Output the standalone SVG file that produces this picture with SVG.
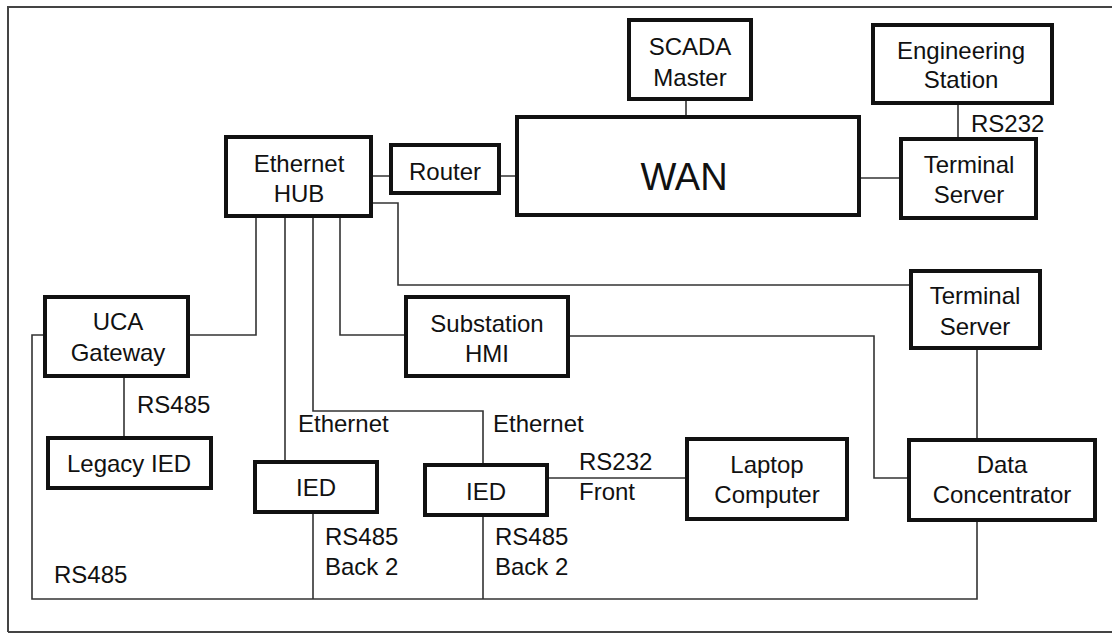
<svg xmlns="http://www.w3.org/2000/svg" width="1112" height="634" viewBox="0 0 1112 634">
<style>
.box{fill:#fff;stroke:#111;stroke-width:4}
.ln{fill:none;stroke:#333;stroke-width:1.6}
.frame{fill:none;stroke:#444;stroke-width:2}
text{font-family:"Liberation Sans",Arial,sans-serif;font-size:24px;fill:#111}
.c{text-anchor:middle}
.big{font-size:38px}
</style>
<rect width="1112" height="634" fill="#fff"/>
<path class="frame" d="M8,632 V7 H1112 M8,632 H1112"/>
<g id="connectors">
<path class="ln" d="M371,176 H391 M499,176 H517"/>
<path class="ln" d="M686,99 V117"/>
<path class="ln" d="M958,103 V139"/>
<path class="ln" d="M859,178 H901"/>
<path class="ln" d="M371,203 H398 V285 H911"/>
<path class="ln" d="M256,216 V335 H188"/>
<path class="ln" d="M285,216 V462"/>
<path class="ln" d="M313,216 V411 H483 V465"/>
<path class="ln" d="M340,216 V335 H406"/>
<path class="ln" d="M124,376 V438"/>
<path class="ln" d="M568,336 H874 V478 H909"/>
<path class="ln" d="M977,348 V440"/>
<path class="ln" d="M547,478 H687"/>
<path class="ln" d="M45,335 H32 V599 H977 V520"/>
<path class="ln" d="M313,512 V599 M483,515 V599"/>
<text x="971" y="132">RS232</text>
<text x="137" y="413">RS485</text>
<text x="298" y="432">Ethernet</text>
<text x="493" y="432">Ethernet</text>
<text x="579" y="470">RS232</text>
<text x="579" y="500">Front</text>
<text x="325" y="545">RS485</text>
<text x="325" y="575">Back 2</text>
<text x="495" y="545">RS485</text>
<text x="495" y="575">Back 2</text>
<text x="54" y="583">RS485</text>
</g>
<g id="hub"><rect class="box" x="226" y="137" width="145" height="79"/><text class="c" x="299" y="172">Ethernet</text><text class="c" x="299" y="202">HUB</text></g>
<g id="router"><rect class="box" x="391" y="145" width="108" height="48"/><text class="c" x="445" y="180">Router</text></g>
<g id="wan"><rect class="box" x="517" y="117" width="342" height="98"/><text class="c big" x="684" y="190">WAN</text></g>
<g id="scada"><rect class="box" x="629" y="20" width="122" height="79"/><text class="c" x="690" y="55">SCADA</text><text class="c" x="690" y="86">Master</text></g>
<g id="eng"><rect class="box" x="873" y="25" width="179" height="78"/><text class="c" x="961" y="59">Engineering</text><text class="c" x="961" y="88">Station</text></g>
<g id="ts1"><rect class="box" x="901" y="139" width="135" height="79"/><text class="c" x="969" y="173">Terminal</text><text class="c" x="969" y="203">Server</text></g>
<g id="ts2"><rect class="box" x="911" y="271" width="129" height="77"/><text class="c" x="975" y="304">Terminal</text><text class="c" x="975" y="335">Server</text></g>
<g id="uca"><rect class="box" x="45" y="297" width="143" height="79"/><text class="c" x="118" y="330">UCA</text><text class="c" x="118" y="361">Gateway</text></g>
<g id="hmi"><rect class="box" x="406" y="297" width="162" height="79"/><text class="c" x="487" y="332">Substation</text><text class="c" x="487" y="362">HMI</text></g>
<g id="legacy"><rect class="box" x="48" y="438" width="163" height="50"/><text class="c" x="129" y="472">Legacy IED</text></g>
<g id="ied1"><rect class="box" x="255" y="462" width="122" height="50"/><text class="c" x="316" y="496">IED</text></g>
<g id="ied2"><rect class="box" x="425" y="465" width="122" height="50"/><text class="c" x="486" y="500">IED</text></g>
<g id="laptop"><rect class="box" x="687" y="439" width="160" height="80"/><text class="c" x="767" y="473">Laptop</text><text class="c" x="767" y="503">Computer</text></g>
<g id="dc"><rect class="box" x="909" y="440" width="186" height="80"/><text class="c" x="1002" y="473">Data</text><text class="c" x="1002" y="503">Concentrator</text></g>
</svg>
